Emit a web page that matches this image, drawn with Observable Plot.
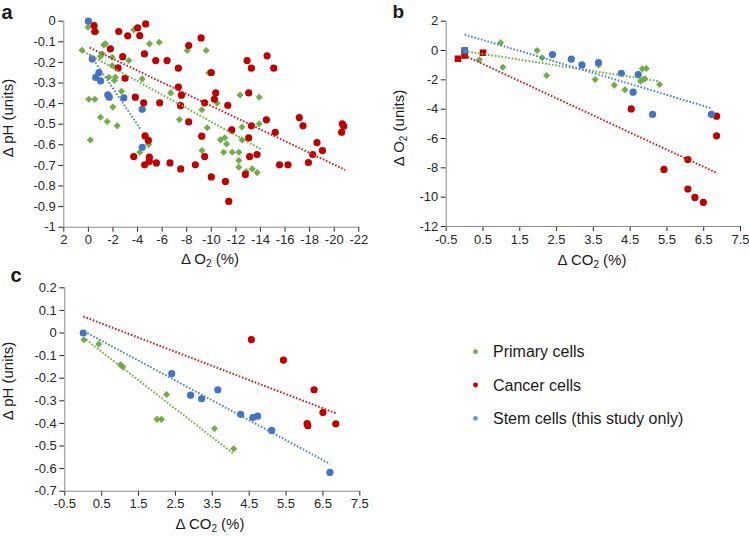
<!DOCTYPE html>
<html><head><meta charset="utf-8">
<script src="https://cdn.jsdelivr.net/npm/d3@7"></script>
<script src="https://cdn.jsdelivr.net/npm/@observablehq/plot@0.6"></script>
<style>
html,body{margin:0;padding:0;background:#fff;}
#root{position:relative;width:749px;height:536px;overflow:hidden;font-family:"Liberation Sans",Arial,sans-serif;}
.pane{position:absolute;}
#overlay{position:absolute;left:0;top:0;pointer-events:none;}
</style>
</head><body>
<div id="root"></div>
<script>
// ---------- DATA ----------
// Panel a: ΔO2 (%) vs ΔpH (units)
const aPrimary = [[0.03,-0.029],[-0.66,-0.052],[0.52,-0.141],[-1.25,-0.115],[-1.39,-0.110],[-1.12,-0.158],[-0.98,-0.171],[-1.94,-0.175],[-1.94,-0.215],[-3.29,-0.191],[-2.2,-0.272],[-1.66,-0.272],[-2.12,-0.288],[-4.38,-0.28],[-2.69,-0.34],[-0.03,-0.379],[-0.52,-0.379],[-1.99,-0.417],[-0.98,-0.466],[-1.53,-0.487],[-2.34,-0.508],[-0.16,-0.577],[-3.69,-0.042],[-4.97,-0.11],[-5.76,-0.102],[-8.04,-0.142],[-9.58,-0.142],[-9.8,-0.25],[-6.7,-0.348],[-7.45,-0.405],[-9.23,-0.43],[-7.41,-0.477],[-9.67,-0.517],[-10.48,-0.398],[-12.34,-0.358],[-4.18,-0.636],[-4.9,-0.599],[-9.24,-0.628],[-10.75,-0.576],[-11.1,-0.566],[-11.24,-0.596],[-11.0,-0.636],[-11.7,-0.636],[-12.24,-0.636],[-12.24,-0.676],[-12.24,-0.709],[-12.5,-0.514],[-12.5,-0.576],[-12.84,-0.73],[-13.33,-0.717],[-13.73,-0.735],[-13.9,-0.369],[-13.9,-0.498]];
const aCancer = [[-0.46,-0.021],[-0.52,-0.05],[-1.79,-0.134],[-2.47,-0.05],[-3.2,-0.071],[-4.01,-0.032],[-4.18,-0.07],[-4.66,-0.013],[-4.56,-0.159],[-2.79,-0.172],[-2.41,-0.227],[-2.98,-0.277],[-5.48,-0.191],[-6.4,-0.191],[-7.32,-0.228],[-8.16,-0.118],[-9.17,-0.081],[-10.0,-0.249],[-7.32,-0.32],[-7.57,-0.359],[-7.5,-0.41],[-5.8,-0.396],[-4.5,-0.396],[-3.82,-0.369],[-10.36,-0.348],[-10.25,-0.379],[-9.46,-0.396],[-8.16,-0.489],[-9.22,-0.558],[-11.34,-0.408],[-11.66,-0.528],[-12.91,-0.191],[-13.26,-0.228],[-13.04,-0.348],[-13.26,-0.508],[-13.04,-0.566],[-13.12,-0.657],[-13.72,-0.647],[-14.54,-0.168],[-15.08,-0.228],[-14.48,-0.479],[-15.2,-0.539],[-15.55,-0.697],[-16.24,-0.697],[-17.16,-0.468],[-17.46,-0.508],[-17.9,-0.686],[-18.25,-0.647],[-18.6,-0.589],[-19.04,-0.628],[-20.66,-0.498],[-20.77,-0.51],[-20.6,-0.539],[-4.61,-0.557],[-4.88,-0.579],[-4.96,-0.66],[-4.58,-0.697],[-4.96,-0.68],[-3.69,-0.657],[-5.53,-0.688],[-6.64,-0.688],[-7.51,-0.717],[-8.7,-0.697],[-10.0,-0.756],[-11.15,-0.778],[-11.42,-0.875],[-12.77,-0.744],[-9.46,-0.657]];
const aStem = [[0,0],[-0.32,-0.183],[-0.86,-0.249],[-0.6,-0.273],[-0.99,-0.29],[-1.58,-0.357],[-1.7,-0.369],[-2.88,-0.372],[-4.38,-0.428],[-4.38,-0.612]];
const aTrendPrimary = [[0.65,-0.139],[-14.0,-0.62]];
const aTrendCancer = [[-0.11,-0.129],[-20.9,-0.722]];
const aTrendStem = [[-0.1,-0.16],[-4.23,-0.523]];

// Panel b: ΔCO2 (%) vs ΔO2 (units)
const bPrimary = [[0.4,-0.63],[0.98,0.53],[1.04,-1.14],[1.97,0],[2.11,-0.5],[2.23,-1.7],[3.55,-1.98],[3.64,-0.98],[4.07,-2.36],[4.36,-2.68],[4.83,-1.25],[4.94,-1.22],[4.78,-2.09],[4.9,-1.93],[5.3,-2.32],[4.85,-1.98]];
const bCancerSquares = [[-0.18,-0.56],[0,-0.34],[0,0],[0.5,-0.15]];
const bCancer = [[4.53,-3.98],[6.85,-4.48],[6.85,-5.82],[6.07,-7.43],[5.42,-8.11],[6.07,-9.45],[6.26,-10.02],[6.49,-10.36]];
const bStem = [[0,0],[2.39,-0.27],[2.9,-0.59],[3.19,-0.98],[3.64,-0.82],[4.26,-1.55],[4.72,-1.64],[4.58,-2.84],[5.11,-4.36],[6.71,-4.36]];
const bTrendPrimary = [[0,-0.04],[5.28,-2.09]];
const bTrendCancer = [[0,-0.34],[6.85,-8.34]];
const bTrendStem = [[0,1.09],[6.68,-3.91]];

// Panel c: ΔCO2 (%) vs ΔpH (units)
const cPrimary = [[0.02,-0.03],[0.42,-0.049],[1.01,-0.141],[1.07,-0.149],[2.26,-0.272],[2.0,-0.382],[2.12,-0.382],[3.56,-0.423],[4.08,-0.512]];
const cCancer = [[4.56,-0.029],[5.43,-0.12],[6.26,-0.251],[6.5,-0.352],[6.07,-0.401],[6.09,-0.41],[6.85,-0.402]];
const cStem = [[0,0],[2.4,-0.18],[2.91,-0.275],[3.21,-0.291],[3.65,-0.251],[4.27,-0.36],[4.6,-0.374],[4.73,-0.368],[5.11,-0.431],[6.69,-0.617]];
const cTrendPrimary = [[0.01,-0.021],[4.08,-0.535]];
const cTrendCancer = [[0,0.073],[6.85,-0.355]];
const cTrendStem = [[0.03,0.007],[6.69,-0.579]];

// Tick labels
const aXTicks = [2,0,-2,-4,-6,-8,-10,-12,-14,-16,-18,-20,-22];
const aYTicks = [0,-0.1,-0.2,-0.3,-0.4,-0.5,-0.6,-0.7,-0.8,-0.9,-1];
const bXTicks = [-0.5,0.5,1.5,2.5,3.5,4.5,5.5,6.5,7.5];
const bYTicks = [2,0,-2,-4,-6,-8,-10,-12];
const cXTicks = [-0.5,0.5,1.5,2.5,3.5,4.5,5.5,6.5,7.5];
const cYTicks = [0.2,0.1,0,-0.1,-0.2,-0.3,-0.4,-0.5,-0.6,-0.7];

const seriesNames = ["Primary cells","Cancer cells","Stem cells (this study only)"];

// ---------- STYLE ----------
const GREEN = "#70ad47", RED = "#c00000", BLUE = "#4472c4", LEGBLUE = "#5b9bd5";
const TGREEN = "#70ad47", TRED = "#d01c1c", TBLUE = "#4f80d0";
const AXIS = "#8c8c8c";
const px = d => d[0], py = d => d[1];

function trend(data, color) {
  return Plot.line(data, {x: px, y: py, stroke: color, strokeWidth: 2, strokeDasharray: "1.6,1.8", strokeLinecap: "butt"});
}
function pts(data, color, symbol, r) {
  return Plot.dot(data, {x: px, y: py, fill: color, stroke: "none", symbol, r});
}

function makePlot(cfg) {
  return Plot.plot({
    width: cfg.w, height: cfg.h,
    marginLeft: cfg.ml, marginRight: cfg.mr, marginTop: cfg.mt, marginBottom: cfg.mb,
    style: {fontSize: "13px", fontFamily: "'Liberation Sans', Arial, sans-serif", color: "#262626", background: "transparent", overflow: "visible"},
    x: {domain: cfg.xDomain, ticks: cfg.xTicks, tickFormat: d => String(d), tickSize: 5, tickPadding: 3, label: null},
    y: {domain: cfg.yDomain, ticks: cfg.yTicks, tickFormat: d => String(d), tickSize: 5, tickPadding: 3, label: null},
    marks: [
      Plot.ruleX([cfg.xDomain[0]], {stroke: AXIS}),
      Plot.ruleY([cfg.yDomain[0]], {stroke: AXIS}),
      ...cfg.marks
    ]
  });
}

const root = document.getElementById("root");
function place(node, left, top) {
  const d = document.createElement("div");
  d.className = "pane";
  d.style.left = left + "px"; d.style.top = top + "px";
  d.appendChild(node);
  root.appendChild(d);
}

const DR = 3.2, CR = 3.6;

const plotA = makePlot({
  w: 375, h: 250, ml: 63.3, mr: 16.7, mt: 20.7, mb: 23.3,
  xDomain: [2, -22], yDomain: [-1, 0], xTicks: aXTicks, yTicks: aYTicks,
  marks: [
    pts(aPrimary, GREEN, "diamond2", DR),
    pts(aCancer, RED, "circle", CR),
    pts(aStem, BLUE, "circle", CR),
    trend(aTrendPrimary, TGREEN), trend(aTrendCancer, TRED), trend(aTrendStem, TBLUE)
  ]
});
place(plotA, 0, 0);

const plotB = makePlot({
  w: 369, h: 250, ml: 65.7, mr: 9, mt: 20.7, mb: 24,
  xDomain: [-0.5, 7.5], yDomain: [-12, 2], xTicks: bXTicks, yTicks: bYTicks,
  marks: [
    pts(bPrimary, GREEN, "diamond2", DR),
    pts(bCancerSquares, RED, "square", 3.7),
    pts(bCancer, RED, "circle", CR),
    pts(bStem, BLUE, "circle", CR),
    trend(bTrendPrimary, TGREEN), trend(bTrendCancer, TRED), trend(bTrendStem, TBLUE)
  ]
});
place(plotB, 380, 0);

const plotC = makePlot({
  w: 375, h: 245, ml: 64.3, mr: 15.7, mt: 17.3, mb: 24.3,
  xDomain: [-0.5, 7.5], yDomain: [-0.7, 0.2], xTicks: cXTicks, yTicks: cYTicks,
  marks: [
    pts(cPrimary, GREEN, "diamond2", DR),
    pts(cCancer, RED, "circle", CR),
    pts(cStem, BLUE, "circle", CR),
    trend(cTrendPrimary, TGREEN), trend(cTrendCancer, TRED), trend(cTrendStem, TBLUE)
  ]
});
place(plotC, 0, 270);

// ---------- TEXT OVERLAY ----------
const NS = "http://www.w3.org/2000/svg";
const ov = document.createElementNS(NS, "svg");
ov.setAttribute("id", "overlay");
ov.setAttribute("width", 749); ov.setAttribute("height", 536);
ov.setAttribute("font-family", "'Liberation Sans', Arial, sans-serif");
root.appendChild(ov);

function txt(parts, x, y, opts = {}) {
  const t = document.createElementNS(NS, "text");
  t.setAttribute("x", x); t.setAttribute("y", y);
  t.setAttribute("font-size", opts.size || 15);
  t.setAttribute("fill", opts.fill || "#1a1a1a");
  if (opts.weight) t.setAttribute("font-weight", opts.weight);
  if (opts.anchor) t.setAttribute("text-anchor", opts.anchor);
  if (opts.rotate) t.setAttribute("transform", `rotate(-90 ${x} ${y})`);
  for (const p of parts) {
    const s = document.createElementNS(NS, "tspan");
    s.textContent = typeof p === "string" ? p : p.sub;
    if (typeof p !== "string") { s.setAttribute("font-size", 10); s.setAttribute("dy", 3); }
    else if (t.childNodes.length && typeof parts[t.childNodes.length - 1] !== "string") s.setAttribute("dy", -3);
    t.appendChild(s);
  }
  ov.appendChild(t);
}

txt(["a"], 1.5, 18.7, {size: 20, weight: "bold"});
txt(["b"], 392.5, 17.5, {size: 19, weight: "bold"});
txt(["c"], 10.5, 282, {size: 20, weight: "bold"});

txt(["Δ O", {sub: "2"}, " (%)"], 210, 264, {anchor: "middle"});
txt(["Δ CO", {sub: "2"}, " (%)"], 592, 265, {anchor: "middle"});
txt(["Δ CO", {sub: "2"}, " (%)"], 210, 529, {anchor: "middle"});

txt(["Δ pH (units)"], 13, 118, {anchor: "middle", rotate: true});
txt(["Δ O", {sub: "2"}, " (units)"], 404, 128, {anchor: "middle", rotate: true});
txt(["Δ pH (units)"], 13, 381, {anchor: "middle", rotate: true});

// Legend
const legColors = [GREEN, RED, LEGBLUE];
const legY = [351.7, 385, 418.3];
seriesNames.forEach((name, i) => {
  const c = document.createElementNS(NS, "circle");
  c.setAttribute("cx", 475.5); c.setAttribute("cy", legY[i]); c.setAttribute("r", 2.4);
  c.setAttribute("fill", legColors[i]);
  ov.appendChild(c);
  txt([name], 493, legY[i] + 5.6, {size: 16});
});
</script>
</body></html>
